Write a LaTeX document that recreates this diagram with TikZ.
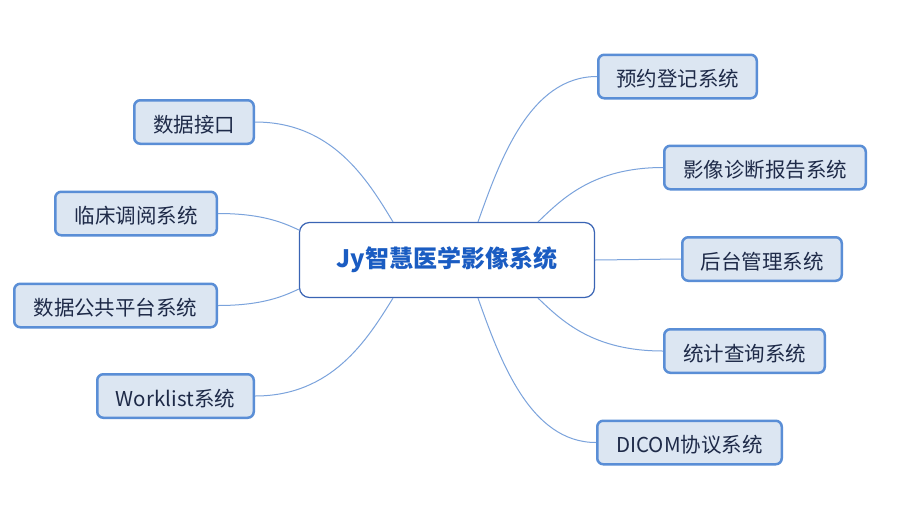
\documentclass[tikz,border=0pt]{standalone}
\usepackage{fontspec}
\setmainfont{Noto Sans CJK SC}
\usetikzlibrary{calc}
\definecolor{boxfill}{HTML}{DCE6F2}
\definecolor{boxline}{HTML}{5A8ED6}
\definecolor{boxtext}{HTML}{1E2A48}
\definecolor{mainline}{HTML}{3A64B4}
\definecolor{maintext}{HTML}{1A5CC2}
\definecolor{linkcol}{HTML}{7BA3DC}
\begin{document}
\begin{tikzpicture}[x=1pt,y=-1pt,
  sub/.style={draw=boxline, line width=2.5pt, fill=boxfill, rounded corners=6pt,
    text=boxtext, font=\fontsize{20.5}{24}\selectfont, inner sep=0pt,
    text height=20pt, text depth=0pt, minimum height=43.5pt},
  hub/.style={draw=mainline, line width=1.2pt, fill=white, rounded corners=10pt,
    text=maintext, font=\fontsize{24}{28}\selectfont\bfseries, inner sep=0pt,
    minimum width=295pt, minimum height=75pt},
  link/.style={draw=linkcol, line width=1pt}]
\useasboundingbox (0,0) rectangle (900,523);
\fill[white] (0,0) rectangle (900,523);
% nodes
\node[hub] (c) at (447,260) {Jy智慧医学影像系统};
\node[sub, minimum width=158.5pt] (r1) at (677.5,76.5) {预约登记系统};
\node[sub, minimum width=201.5pt] (r2) at (765,167.5) {影像诊断报告系统};
\node[sub, minimum width=159.5pt] (r3) at (762,259) {后台管理系统};
\node[sub, minimum width=160.5pt] (r4) at (744.5,351) {统计查询系统};
\node[sub, minimum width=184.5pt] (r5) at (689.5,442.5) {DICOM协议系统};
\node[sub, minimum width=119.5pt] (l1) at (194,122) {数据接口};
\node[sub, minimum width=161.5pt] (l2) at (136,213.5) {临床调阅系统};
\node[sub, minimum width=202.5pt] (l3) at (115.5,305.5) {数据公共平台系统};
\node[sub, minimum width=156.5pt] (l4) at (175.5,396) {Worklist系统};
% connection points on the hub
\coordinate (s1) at ($(c.north)+(31,0)$);
\coordinate (s2) at ($(c.north)+(91,0)$);
\coordinate (s4) at ($(c.south)+(91,0)$);
\coordinate (s5) at ($(c.south)+(31,0)$);
\coordinate (t1) at ($(c.north)+(-54,0)$);
\coordinate (t2) at ($(c.west)+(0,-30)$);
\coordinate (t3) at ($(c.west)+(0,29)$);
\coordinate (t4) at ($(c.south)+(-54,0)$);
% connectors
\draw[link] (s1) .. controls ($(s1)+(22,-62)$) and ($(r1.west)+(-67,0)$) .. (r1.west);
\draw[link] (s2) .. controls ($(s2)+(24,-23)$) and ($(r2.west)+(-70,0)$) .. (r2.west);
\draw[link] (c.east) -- (r3.west);
\draw[link] (s4) .. controls ($(s4)+(24,23)$) and ($(r4.west)+(-70,0)$) .. (r4.west);
\draw[link] (s5) .. controls ($(s5)+(22,62)$) and ($(r5.west)+(-66,0)$) .. (r5.west);
\draw[link] (t1) .. controls ($(t1)+(-26,-43)$) and ($(l1.east)+(77,0)$) .. (l1.east);
\draw[link] (t2) .. controls ($(t2)+(-15,-7)$) and ($(l2.east)+(45,0)$) .. (l2.east);
\draw[link] (t3) .. controls ($(t3)+(-15,7)$) and ($(l3.east)+(45,0)$) .. (l3.east);
\draw[link] (t4) .. controls ($(t4)+(-26,42)$) and ($(l4.east)+(77,0)$) .. (l4.east);
\end{tikzpicture}
\end{document}
